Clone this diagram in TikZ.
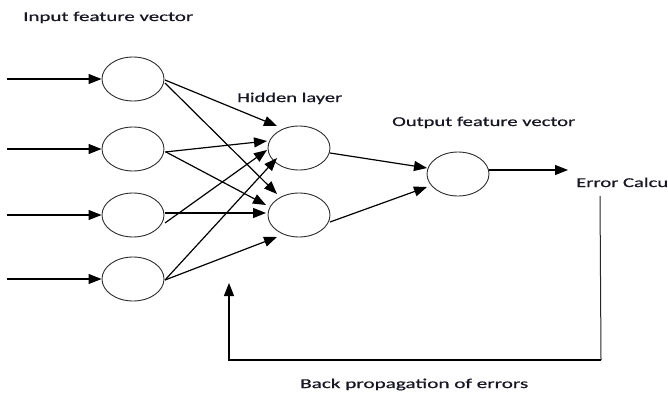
\documentclass[tikz,border=0pt]{standalone}
\usepackage{fontspec}
\setmainfont{Carlito}
\newfontfamily\lblfont[FakeBold=0.6]{Carlito}
\usetikzlibrary{arrows.meta,shapes.geometric}
\definecolor{ink}{RGB}{24,24,36}
\definecolor{rim}{RGB}{45,45,45}
\newcommand{\wtext}[2]{\resizebox{#1}{\height}{#2}}
\begin{document}
\begin{tikzpicture}[x=1pt,y=-1pt,
  neuron/.style={draw=rim,line width=0.9pt,ellipse,minimum width=62pt,minimum height=44pt,inner sep=0pt},
  link/.style={line width=1.2pt,draw=black,-{Triangle[length=13pt,width=10pt]}},
  plain/.style={line width=1.1pt,draw=black!85},
  label/.style={anchor=base west,inner sep=0pt,text=ink,font=\lblfont\fontsize{13.5}{14}\selectfont}]
\useasboundingbox (0,0) rectangle (668,396);

% neurons
\node[neuron] (i1) at (133,79) {};
\node[neuron] (i2) at (133,149) {};
\node[neuron] (i3) at (133,215) {};
\node[neuron] (i4) at (133,279) {};
\node[neuron] (h1) at (299,148) {};
\node[neuron] (h2) at (299,215) {};
\node[neuron] (o)  at (458,174) {};

% labels
\node[label] (tin)  at (23,21)  {\wtext{170pt}{Input feature vector}};
\node[label] (thid) at (237,102) {\wtext{105pt}{Hidden layer}};
\node[label] (tout) at (392,126) {\wtext{183pt}{Output feature vector}};
\node[label] (err)  at (576,187) {\wtext{92pt}{Error Calcu}};
\node[label] (tbp)  at (300,388) {\wtext{228pt}{Back propagation of errors}};

% input signals
\coordinate (s1) at (7,79);
\coordinate (s2) at (7,149);
\coordinate (s3) at (7,215);
\coordinate (s4) at (7,279);
\draw[link] (s1) -- (i1.west);
\draw[link] (s2) -- (i2.west);
\draw[link] (s3) -- (i3.west);
\draw[link] (s4) -- (i4.west);

% input -> hidden
\draw[link] ([shift={(32,1)}]i1.center) -- ([shift={(-22,-22)}]h1.center);
\draw[link] ([shift={(32,4)}]i1.center) -- ([shift={(-22,-21)}]h2.center);
\draw[link] ([shift={(32,3)}]i2.center) -- ([shift={(-32,-7)}]h1.center);
\draw[link] ([shift={(33,3)}]i2.center) -- ([shift={(-33,-10)}]h2.center);
\draw[link] ([shift={(32,8)}]i3.center) -- ([shift={(-32,2)}]h1.center);
\draw[link] ([shift={(32,-2)}]i3.center) -- ([shift={(-33,-2)}]h2.center);
\draw[link] ([shift={(32,1)}]i4.center) -- ([shift={(-22,10)}]h1.center);
\draw[link] ([shift={(32,1)}]i4.center) -- ([shift={(-22,22)}]h2.center);

% hidden -> output
\draw[link] ([shift={(31,5)}]h1.center) -- ([shift={(-31,-6)}]o.center);
\draw[link] ([shift={(31,7)}]h2.center) -- ([shift={(-31,13)}]o.center);

% output -> error
\coordinate (e0) at (568,170);
\draw[link] ([shift={(31,-4)}]o.center) -- (e0);

% feedback loop
\coordinate (bp0) at (600,196);
\coordinate (bp1) at (601,360);
\coordinate (bp2) at (229,360);
\coordinate (bp3) at (229,283);
\draw[plain,line width=1pt] (bp0) -- (bp1);
\draw[link] (bp1) -- (bp2) -- (bp3);
\end{tikzpicture}
\end{document}
